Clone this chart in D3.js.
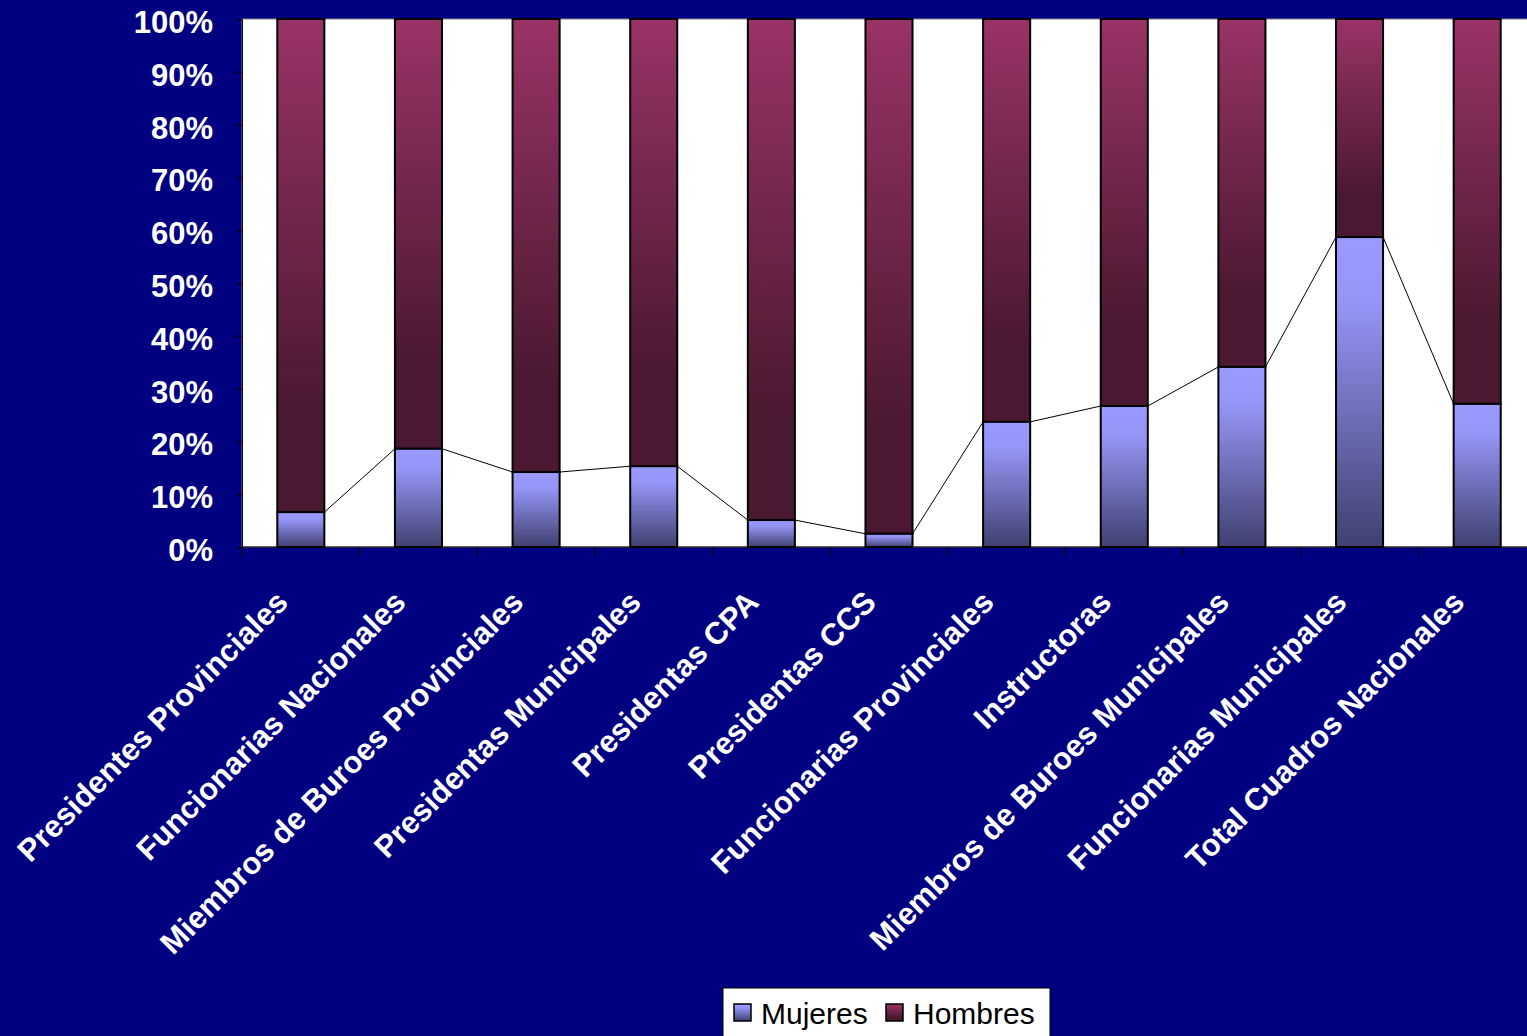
<!DOCTYPE html>
<html><head><meta charset="utf-8">
<script src="https://cdn.jsdelivr.net/npm/d3@7"></script>
<style>html,body{margin:0;padding:0;background:#000080;overflow:hidden}</style>
</head><body>
<svg id="c" width="1527" height="1036"></svg>
<script>
const categories = ["Presidentes Provinciales","Funcionarias Nacionales","Miembros de Buroes Provinciales","Presidentas Municipales","Presidentas CPA","Presidentas CCS","Funcionarias Provinciales","Instructoras","Miembros de Buroes Municipales","Funcionarias Municipales","Total Cuadros Nacionales"];
const mujeres = [6.6, 18.6, 14.2, 15.3, 5.1, 2.5, 23.7, 26.7, 34.1, 58.7, 27.1];
const hombres = mujeres.map(v => 100 - v);
const seriesNames = ["Mujeres","Hombres"];
const yTicks = [0,10,20,30,40,50,60,70,80,90,100];

(function(){
const svg = d3.select("#c");
const pl = 242, pr = 1536, pt = 19, pb = 547;
const font = "Liberation Sans, Arial, sans-serif";

const defs = svg.append("defs");
const gm = defs.append("linearGradient").attr("id","gM").attr("x1",0).attr("y1",0).attr("x2",0).attr("y2",1);
gm.append("stop").attr("offset","0").attr("stop-color","#9999ff");
gm.append("stop").attr("offset","0.2").attr("stop-color","#9696f8");
gm.append("stop").attr("offset","1").attr("stop-color","#404070");
const gh = defs.append("linearGradient").attr("id","gH").attr("x1",0).attr("y1",0).attr("x2",0).attr("y2",1);
gh.append("stop").attr("offset","0").attr("stop-color","#993366");
gh.append("stop").attr("offset","0.8").attr("stop-color","#4a1830");
gh.append("stop").attr("offset","1").attr("stop-color","#4a1830");

const x = d3.scaleBand().domain(categories).range([pl, pr]).paddingInner(0).paddingOuter(0);
const y = d3.scaleLinear().domain([0,100]).range([pb, pt]);
const bw = x.bandwidth() * 0.4;

svg.append("rect").attr("x", pl).attr("y", pt).attr("width", pr-pl).attr("height", pb-pt)
  .attr("fill","#ffffff").attr("stroke","#808080").attr("stroke-width",1);

const yAxis = d3.axisLeft(y).tickValues(yTicks).tickFormat(d => d + "%").tickSize(7).tickPadding(22);
const ya = svg.append("g").attr("transform", `translate(${pl},0)`).call(yAxis);
ya.select(".domain").attr("stroke","#000000");
ya.selectAll(".tick line").attr("stroke","#000000");
ya.selectAll(".tick text").attr("fill","#ffffff").attr("font-family",font).attr("font-weight","bold").attr("font-size","31px").attr("dy","0.37em").attr("y",2);

const g = svg.append("g");
categories.forEach((c,i) => {
  const cx = x(c) + x.bandwidth()/2;
  g.append("rect").attr("x", cx - bw/2).attr("y", y(100)).attr("width", bw).attr("height", y(mujeres[i]) - y(100))
    .attr("fill","url(#gH)").attr("stroke","#000000").attr("stroke-width",2);
  g.append("rect").attr("x", cx - bw/2).attr("y", y(mujeres[i])).attr("width", bw).attr("height", y(0) - y(mujeres[i]))
    .attr("fill","url(#gM)").attr("stroke","#000000").attr("stroke-width",2);
});

for (let i = 0; i < categories.length - 1; i++) {
  const x1 = x(categories[i]) + x.bandwidth()/2 + bw/2;
  const x2 = x(categories[i+1]) + x.bandwidth()/2 - bw/2;
  g.append("line").attr("x1", x1).attr("y1", y(mujeres[i])).attr("x2", x2).attr("y2", y(mujeres[i+1]))
    .attr("stroke","#000000").attr("stroke-width",1);
}

const xa = svg.append("g").attr("transform", `translate(0,${pb})`);
xa.append("line").attr("x1", pl).attr("x2", pr).attr("y1",0).attr("y2",0).attr("stroke","#000000");
const bounds = categories.map(c => x(c)).concat([pr]);
xa.selectAll("line.tk").data(bounds).enter().append("line").attr("class","tk")
  .attr("x1", d => d).attr("x2", d => d).attr("y1", 0).attr("y2", 10).attr("stroke","#000000");
xa.selectAll("text").data(categories).enter().append("text")
  .attr("transform", d => `translate(${x(d) + x.bandwidth()/2 - 11},${57}) rotate(-45)`)
  .attr("text-anchor","end").attr("fill","#ffffff").attr("font-family",font).attr("font-weight","bold").attr("font-size","31px")
  .text(d => d);

const lg = svg.append("g").attr("transform","translate(723,988)");
lg.append("rect").attr("x",0).attr("y",0).attr("width",327).attr("height",60).attr("fill","#ffffff").attr("stroke","#000000").attr("stroke-width",1);
const items = [{name: seriesNames[0], fill:"url(#gM)", x:11, tx:38},{name: seriesNames[1], fill:"url(#gH)", x:163, tx:190}];
items.forEach(it => {
  lg.append("rect").attr("x", it.x).attr("y", 16).attr("width",17).attr("height",17).attr("fill", it.fill).attr("stroke","#000000").attr("stroke-width",1.5);
  lg.append("text").attr("x", it.tx).attr("y", 36).attr("fill","#000000").attr("font-family",font).attr("font-size","30px").text(it.name);
});
})();
</script>
</body></html>
